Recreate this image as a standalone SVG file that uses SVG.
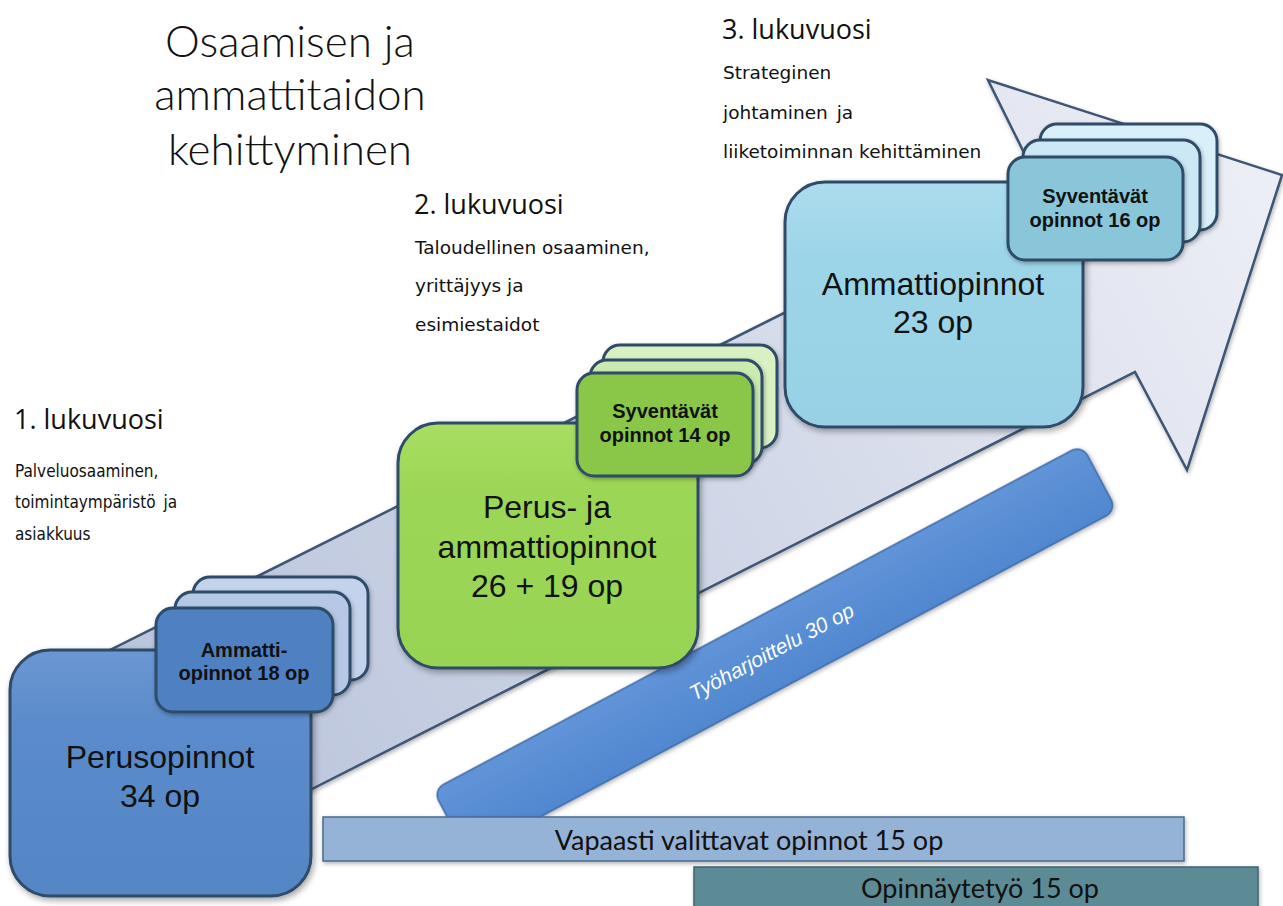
<svg xmlns="http://www.w3.org/2000/svg" width="1283" height="906" viewBox="0 0 1283 906">
<defs>
<linearGradient id="gArrow" gradientUnits="userSpaceOnUse" x1="100" y1="800" x2="1250" y2="180">
<stop offset="0" stop-color="#b7c2da"/>
<stop offset="0.55" stop-color="#d2d8e8"/>
<stop offset="1" stop-color="#eceef5"/>
</linearGradient>
<linearGradient id="gBlue" x1="0" y1="0" x2="0" y2="1">
<stop offset="0" stop-color="#6b97d3"/>
<stop offset="0.3" stop-color="#5b8bcb"/>
<stop offset="1" stop-color="#5486c6"/>
</linearGradient>
<linearGradient id="gGreen" x1="0" y1="0" x2="0" y2="1">
<stop offset="0" stop-color="#a8de62"/>
<stop offset="0.3" stop-color="#9cd656"/>
<stop offset="1" stop-color="#98d453"/>
</linearGradient>
<linearGradient id="gCyan" x1="0" y1="0" x2="0" y2="1">
<stop offset="0" stop-color="#acdcee"/>
<stop offset="0.3" stop-color="#9dd5e8"/>
<stop offset="1" stop-color="#98d1e5"/>
</linearGradient>
<linearGradient id="gBar" x1="0" y1="0" x2="0" y2="1">
<stop offset="0" stop-color="#6194d8"/>
<stop offset="1" stop-color="#5087cf"/>
</linearGradient>
<filter id="sh" x="-10%" y="-10%" width="125%" height="130%">
<feDropShadow dx="2" dy="3" stdDeviation="3" flood-color="#000" flood-opacity="0.35"/>
</filter>
<filter id="shs" x="-10%" y="-10%" width="125%" height="130%">
<feDropShadow dx="1" dy="2" stdDeviation="2" flood-color="#000" flood-opacity="0.3"/>
</filter>
</defs>
<style>
.box{stroke:#2f4b68;stroke-width:3;filter:url(#sh)}
.sbox{stroke:#2f4b68;stroke-width:3;filter:url(#shs)}
.big{font-family:"Liberation Sans",Arial,sans-serif;font-size:32px;fill:#111;text-anchor:middle}
.small{font-family:"Liberation Sans",Arial,sans-serif;font-size:20px;font-weight:bold;fill:#111;text-anchor:middle}
.title{font-family:Lato,"Liberation Sans",sans-serif;font-size:44px;font-weight:300;fill:#111;text-anchor:middle}
.year{font-family:"Open Sans","DejaVu Sans",sans-serif;font-size:27px;fill:#111}
.body1{font-family:"DejaVu Sans Condensed","DejaVu Sans",sans-serif;font-stretch:condensed;font-size:17px;fill:#111}
.body2{font-family:"DejaVu Sans",sans-serif;font-size:18.5px;fill:#111}
.bartext{font-family:Lato,"Liberation Sans",sans-serif;font-size:27px;fill:#111;text-anchor:middle}
</style>
<rect width="1283" height="906" fill="#ffffff"/>

<g id="title">
<text class="title" x="290" y="57">Osaamisen ja</text>
<text class="title" x="290" y="110">ammattitaidon</text>
<text class="title" x="290" y="165">kehittyminen</text>
</g>

<g id="year3">
<text class="year" x="722" y="39">3. lukuvuosi</text>
<text class="body2" x="723" y="79">Strateginen</text>
<text class="body2" x="723" y="119" word-spacing="3">johtaminen ja</text>
<text class="body2" x="723" y="158">liiketoiminnan kehittäminen</text>
</g>

<g id="year2">
<text class="year" x="414" y="214">2. lukuvuosi</text>
<text class="body2" x="415" y="254">Taloudellinen osaaminen,</text>
<text class="body2" x="415" y="292">yrittäjyys ja</text>
<text class="body2" x="415" y="331">esimiestaidot</text>
</g>

<g id="year1">
<text class="year" x="14" y="429">1. lukuvuosi</text>
<text class="body1" x="15" y="477">Palveluosaaminen,</text>
<text class="body1" x="15" y="508" word-spacing="3">toimintaympäristö ja</text>
<text class="body1" x="15" y="540">asiakkuus</text>
</g>

<g id="arrow">
<polygon points="60,675 1040,185 988,80 1282,175 1187,470 1135,372 310,790 200,846" fill="url(#gArrow)" stroke="#3d5675" stroke-width="2.5" stroke-linejoin="miter" filter="url(#shs)"/>
</g>

<g id="connectors"></g>

<g id="bar-tyoharjoittelu" transform="translate(433,790) rotate(-28)">
<rect x="0" y="0" width="735" height="74" rx="12" fill="url(#gBar)" stroke="#3c69a6" stroke-width="1.5" filter="url(#shs)"/>
<text x="364" y="44" font-family="'Liberation Sans',Arial,sans-serif" font-size="21" font-style="italic" fill="#ffffff" text-anchor="middle">Työharjoittelu 30 op</text>
</g>

<g id="bar-vapaasti">
<rect x="323" y="817" width="861" height="44" fill="#95b3d7" stroke="#4b6a8f" stroke-width="1.5" filter="url(#shs)"/>
<text class="bartext" x="749" y="850">Vapaasti valittavat opinnot 15 op</text>
</g>

<g id="bar-opinnaytetyo">
<rect x="694" y="867" width="564" height="44" fill="#5b8b95" stroke="#3e6470" stroke-width="1.5" filter="url(#shs)"/>
<text class="bartext" x="980" y="898">Opinnäytetyö 15 op</text>
</g>

<g id="box-perusopinnot">
<rect class="box" x="10" y="650" width="301" height="246" rx="40" fill="url(#gBlue)"/>
<text class="big" x="160" y="768">Perusopinnot</text>
<text class="big" x="160" y="807">34 op</text>
</g>

<g id="stack-ammattiopinnot">
<rect class="sbox" x="193" y="577" width="175" height="103" rx="17" fill="#c3d3ec"/>
<rect class="sbox" x="175" y="592" width="175" height="103" rx="17" fill="#b5c9e6"/>
<rect class="sbox" x="156" y="608" width="177" height="104" rx="17" fill="#4f80c1"/>
<text class="small" x="244" y="657">Ammatti-</text>
<text class="small" x="244" y="680">opinnot 18 op</text>
</g>

<g id="box-perus-ammatti">
<rect class="box" x="398" y="423" width="300" height="245" rx="40" fill="url(#gGreen)"/>
<text class="big" x="547" y="518">Perus- ja</text>
<text class="big" x="547" y="558">ammattiopinnot</text>
<text class="big" x="547" y="597">26 + 19 op</text>
</g>

<g id="stack-syventavat14">
<rect class="sbox" x="603" y="345" width="174" height="103" rx="17" fill="#d9f0c3"/>
<rect class="sbox" x="590" y="360" width="172" height="104" rx="17" fill="#cbeab0"/>
<rect class="sbox" x="577" y="373" width="176" height="103" rx="17" fill="#8ac748"/>
<text class="small" x="665" y="418">Syventävät</text>
<text class="small" x="665" y="442">opinnot 14 op</text>
</g>

<g id="box-ammattiopinnot">
<rect class="box" x="785" y="182" width="298" height="245" rx="40" fill="url(#gCyan)"/>
<text class="big" x="933" y="295">Ammattiopinnot</text>
<text class="big" x="933" y="333">23 op</text>
</g>

<g id="stack-syventavat16">
<rect class="sbox" x="1040" y="124" width="177" height="106" rx="17" fill="#d9eff9"/>
<rect class="sbox" x="1023" y="140" width="177" height="102" rx="17" fill="#cce8f5"/>
<rect class="sbox" x="1008" y="157" width="175" height="103" rx="17" fill="#8ac6da"/>
<text class="small" x="1095" y="203">Syventävät</text>
<text class="small" x="1095" y="227">opinnot 16 op</text>
</g>
</svg>
